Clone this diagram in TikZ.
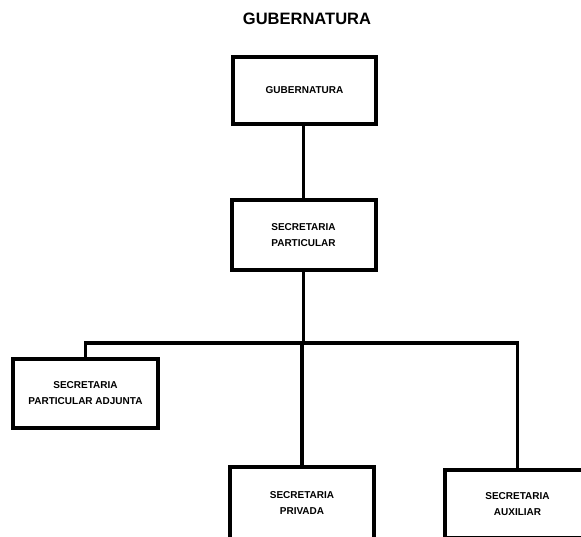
\documentclass[tikz,border=0pt]{standalone}
\usepackage{fontspec}
\setmainfont{Liberation Sans}
\begin{document}
\begin{tikzpicture}[x=1pt,y=-1pt,
  orgbox/.style={draw, line width=4pt, align=center, inner sep=0pt,
    font=\bfseries\fontsize{10}{16}\selectfont},
  wire/.style={line width=3.5pt},
  titletext/.style={font=\bfseries\fontsize{16.5}{20}\selectfont}]
\useasboundingbox (0,0) rectangle (581,537);
\clip (0,0) rectangle (581,537);
\node[titletext] (title) at (307,19) {GUBERNATURA};
\node[orgbox, minimum width=143pt, minimum height=67pt] (b1) at (304.5,90.5) {GUBERNATURA};
\node[orgbox, minimum width=144pt, minimum height=70pt] (b2) at (303.5,235) {SECRETARIA\\PARTICULAR};
\node[orgbox, minimum width=145pt, minimum height=69pt] (b3) at (85.5,393.5) {SECRETARIA\\PARTICULAR ADJUNTA};
\node[orgbox, minimum width=144pt, minimum height=72pt] (b4) at (302,503) {SECRETARIA\\PRIVADA};
\node[orgbox, minimum width=146pt, minimum height=68pt] (b5) at (517.5,504) {SECRETARIA\\AUXILIAR};
\coordinate (j) at (303.5,343);
\draw[wire] (b2.north |- b1.south) -- (b2.north);
\draw[wire] (b2.south) -- (j);
\draw[wire] (b3.north) |- (j) -| (b5.north);
\draw[wire] (b4.north |- j) -- (b4.north);
\end{tikzpicture}
\end{document}
